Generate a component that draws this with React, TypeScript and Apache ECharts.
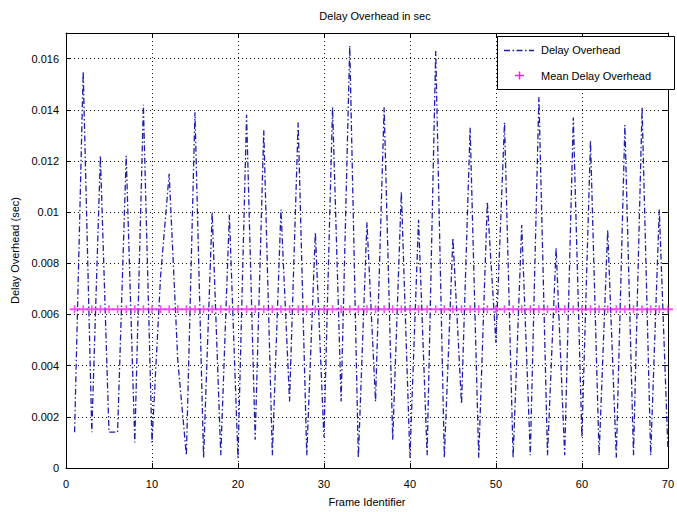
import React, { useEffect, useRef } from 'react';
import * as echarts from 'echarts';

// Frame identifiers (x) and measured delay overhead per frame (sec)
const frameIds = [
  1, 2, 3, 4, 5, 6, 7, 8, 9, 10,
  11, 12, 13, 14, 15, 16, 17, 18, 19, 20,
  21, 22, 23, 24, 25, 26, 27, 28, 29, 30,
  31, 32, 33, 34, 35, 36, 37, 38, 39, 40,
  41, 42, 43, 44, 45, 46, 47, 48, 49, 50,
  51, 52, 53, 54, 55, 56, 57, 58, 59, 60,
  61, 62, 63, 64, 65, 66, 67, 68, 69, 70,
];
const delayOverhead = [
  0.0014, 0.0155, 0.0014, 0.0122, 0.0014, 0.0014, 0.0122, 0.0010, 0.0142, 0.0010,
  0.0075, 0.0115, 0.0042, 0.0005, 0.0139, 0.0004, 0.0100, 0.0005, 0.0099, 0.0004,
  0.0138, 0.0011, 0.0132, 0.0005, 0.0101, 0.0026, 0.0135, 0.0005, 0.0092, 0.0012,
  0.0141, 0.0026, 0.0165, 0.0004, 0.0096, 0.0026, 0.0141, 0.0011, 0.0108, 0.0004,
  0.0097, 0.0005, 0.0163, 0.0004, 0.0090, 0.0025, 0.0133, 0.0004, 0.0104, 0.0049,
  0.0135, 0.0004, 0.0095, 0.0005, 0.0145, 0.0005, 0.0086, 0.0005, 0.0137, 0.0012,
  0.0128, 0.0005, 0.0093, 0.0004, 0.0134, 0.0005, 0.0141, 0.0005, 0.0101, 0.0008,
];
const meanDelayOverhead = 0.0062;

const xMin = 0;
const xMax = 70;
const xInterval = 10;
const yMin = 0;
const yMax = 0.017;
const yInterval = 0.002;

const titleText = 'Delay Overhead in sec';
const xName = 'Frame Identifier';
const yName = 'Delay Overhead (sec)';
const legendNames = ['Delay Overhead', 'Mean Delay Overhead'];

const FONT = '"Liberation Sans", Arial, Helvetica, sans-serif';
const BLUE = '#1e1eb0';
const MAGENTA = '#f020f0';
const DASH = [6, 2.5, 1.5, 2.5];
const PLUS = 'path://M0,30H38V0H52V30H90V50H52V80H38V50H0Z';

export default function App() {
  const ref = useRef<HTMLDivElement>(null);

  useEffect(() => {
    if (!ref.current) return;
    const chart = echarts.init(ref.current, undefined, { renderer: 'svg' });

    const axisLine = { show: true, onZero: false, lineStyle: { color: '#000', width: 1 } };
    const axisTick = { show: true, inside: true, length: 5, lineStyle: { color: '#000', width: 1 } };
    const gridLine = { show: true, lineStyle: { color: '#111', width: 1, type: [1, 3] } };
    const labelStyle = { color: '#000', fontSize: 11, fontFamily: FONT };

    const option: any = {
      animation: false,
      backgroundColor: '#fff',
      textStyle: { fontFamily: FONT },
      title: {
        text: titleText,
        left: 370,
        top: 5,
        textAlign: 'center',
        textStyle: { fontSize: 11, fontWeight: 'normal', color: '#000', fontFamily: FONT },
      },
      grid: { left: 66, right: 2, top: 33, bottom: 39, containLabel: false },
      xAxis: [
        {
          type: 'value', min: xMin, max: xMax, interval: xInterval, position: 'bottom',
          name: xName, nameLocation: 'middle', nameGap: 28,
          nameTextStyle: { ...labelStyle },
          axisLine, axisTick,
          axisLabel: { ...labelStyle, margin: 10 },
          splitLine: gridLine,
        },
        {
          type: 'value', min: xMin, max: xMax, interval: xInterval, position: 'top',
          axisLine, axisTick, axisLabel: { show: false }, splitLine: { show: false },
        },
      ],
      yAxis: [
        {
          type: 'value', min: yMin, max: yMax, interval: yInterval, position: 'left',
          name: yName, nameLocation: 'middle', nameGap: 45, nameRotate: 90,
          nameTextStyle: { ...labelStyle },
          axisLine, axisTick,
          axisLabel: {
            ...labelStyle, margin: 7, showMaxLabel: false,
            formatter: (v: number) => String(Number(v.toFixed(3))),
          },
          splitLine: gridLine,
        },
        {
          type: 'value', min: yMin, max: yMax, interval: yInterval, position: 'right',
          axisLine, axisTick, axisLabel: { show: false }, splitLine: { show: false },
        },
      ],
      series: [
        {
          name: legendNames[0],
          type: 'line',
          xAxisIndex: 0, yAxisIndex: 0,
          data: frameIds.map((f, i) => [f, delayOverhead[i]]),
          showSymbol: false,
          symbol: 'none',
          lineStyle: { color: BLUE, width: 1.3, type: DASH },
          z: 2,
        },
        {
          name: legendNames[1],
          type: 'scatter',
          xAxisIndex: 0, yAxisIndex: 0,
          data: frameIds.map((f) => [f, meanDelayOverhead]),
          symbol: PLUS,
          symbolSize: [10, 8],
          itemStyle: { color: MAGENTA },
          z: 3,
        },
      ],
      graphic: [
        {
          type: 'rect', z: 100,
          shape: { x: 497.5, y: 36.5, width: 177, height: 53 },
          style: { fill: '#fff', stroke: '#000', lineWidth: 1 },
        },
        {
          type: 'line', z: 101,
          shape: { x1: 504, y1: 50.5, x2: 534, y2: 50.5 },
          style: { stroke: BLUE, lineWidth: 1.3, lineDash: DASH },
        },
        {
          type: 'text', z: 101, x: 541, y: 50,
          style: { text: legendNames[0], fontSize: 11, fontFamily: FONT, fill: '#000', align: 'left', verticalAlign: 'middle' },
        },
        {
          type: 'line', z: 101,
          shape: { x1: 515, y1: 75.5, x2: 524, y2: 75.5 },
          style: { stroke: MAGENTA, lineWidth: 1.5 },
        },
        {
          type: 'line', z: 101,
          shape: { x1: 519.5, y1: 71.5, x2: 519.5, y2: 79.5 },
          style: { stroke: MAGENTA, lineWidth: 1.5 },
        },
        {
          type: 'text', z: 101, x: 541, y: 76,
          style: { text: legendNames[1], fontSize: 11, fontFamily: FONT, fill: '#000', align: 'left', verticalAlign: 'middle' },
        },
      ],
    };

    chart.setOption(option);
    return () => chart.dispose();
  }, []);

  return (
    <div
      ref={ref}
      style={{ position: 'fixed', left: 0, top: 0, width: 677, height: 512, background: '#fff' }}
    />
  );
}
